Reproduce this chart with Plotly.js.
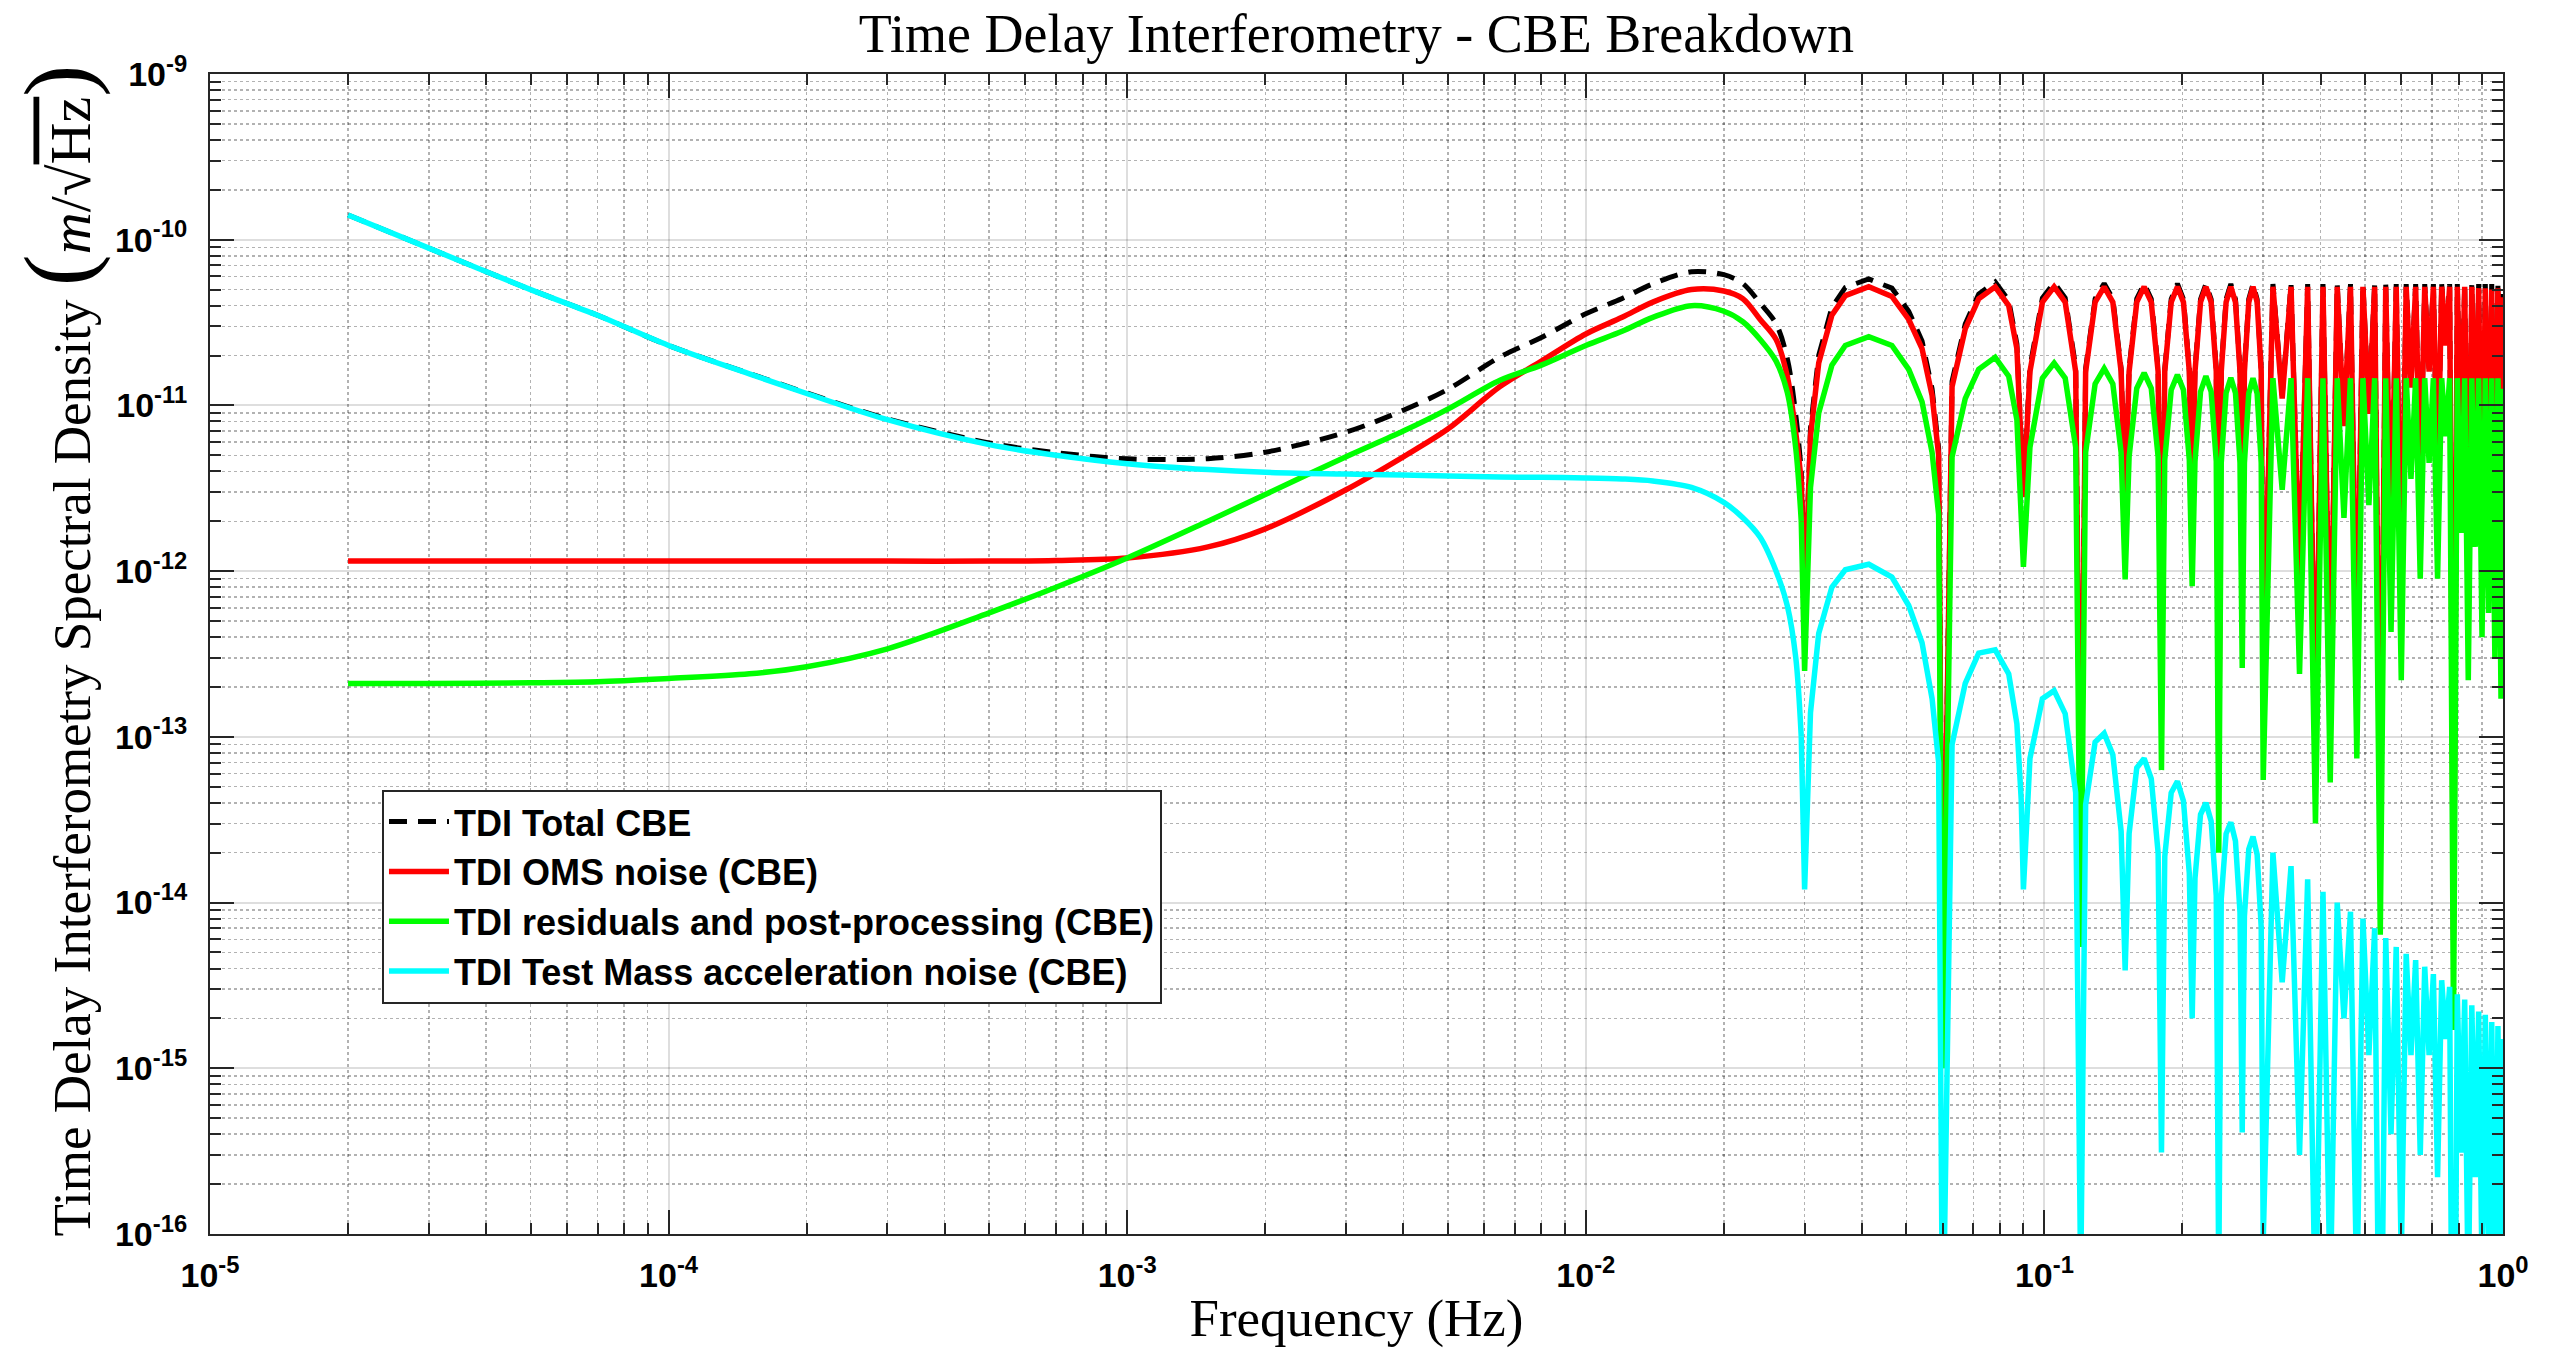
<!DOCTYPE html>
<html>
<head>
<meta charset="utf-8">
<script src="https://cdn.plot.ly/plotly-3.0.1.min.js"></script>
<style>
html,body{margin:0;padding:0;background:#ffffff;}
#chart{width:2569px;height:1357px;}
</style>
</head>
<body>
<div id="chart"></div>
<script>
// ---------- DATA ----------
// Frequencies (Hz): smooth low-frequency part
const f_smooth = [2e-5, 3e-5, 5e-5, 7e-5, 1e-4, 1.5e-4, 2e-4, 3e-4, 5e-4, 7e-4, 1e-3, 1.5e-3, 2e-3, 3e-3, 4e-3, 5e-3, 6.5e-3, 8e-3, 1e-2, 1.2e-2, 1.4e-2, 1.7e-2, 2e-2, 2.2e-2, 2.4e-2, 2.6e-2, 2.75e-2, 2.87e-2, 2.95e-2];
// Frequencies (Hz): first arches (nulls every 0.03 Hz)
const f_arch = [0.03, 0.0309, 0.0322, 0.0344, 0.0368, 0.0414, 0.0465, 0.0506, 0.0541, 0.0569, 0.0588,
  0.06, 0.0629, 0.0672, 0.0719, 0.0781, 0.0836, 0.0871, 0.089,
  0.09, 0.093, 0.099, 0.105, 0.111, 0.117,
  0.12, 0.123, 0.129, 0.135, 0.141, 0.147,
  0.15, 0.153, 0.159, 0.165, 0.171, 0.177,
  0.18, 0.183, 0.189, 0.195, 0.201, 0.207,
  0.21, 0.213, 0.219, 0.225, 0.231, 0.237,
  0.24, 0.243, 0.249, 0.255, 0.261, 0.267,
  0.27, 0.273, 0.279, 0.285, 0.291, 0.297];
// Frequencies (Hz): dense comb (null, peak, null, peak ...)
const f_comb = [0.30, 0.315, 0.33, 0.345, 0.36, 0.375, 0.39, 0.405, 0.42, 0.435, 0.45, 0.465, 0.48, 0.495, 0.51, 0.525, 0.54, 0.555, 0.57, 0.585, 0.60, 0.615, 0.63, 0.645, 0.66, 0.675, 0.69, 0.705, 0.72, 0.735, 0.75, 0.765, 0.78, 0.795, 0.81, 0.825, 0.84, 0.855, 0.87, 0.885, 0.90, 0.915, 0.93, 0.945, 0.96, 0.975, 0.99, 1.0];

// TDI Total CBE (m/sqrt(Hz))
const total_smooth = [1.41e-10, 8.9e-11, 5.0e-11, 3.5e-11, 2.3e-11, 1.56e-11, 1.19e-11, 8.3e-12, 5.94e-12, 5.19e-12, 4.76e-12, 4.77e-12, 5.22e-12, 6.9e-12, 9.35e-12, 1.25e-11, 1.96e-11, 2.57e-11, 3.57e-11, 4.42e-11, 5.41e-11, 6.41e-11, 6.15e-11, 5.44e-11, 4.14e-11, 3.11e-11, 1.92e-11, 8.75e-12, 4.03e-12];
const total_arch = [6.5e-13, 7.3e-12, 2.0e-11, 3.9e-11, 5.15e-11, 5.8e-11, 5.1e-11, 3.7e-11, 2.45e-11, 1.26e-11, 5.5e-12,
  2.8e-15, 1.4e-11, 3.1e-11, 4.7e-11, 5.55e-11, 4.3e-11, 2.35e-11, 7.5e-12,
  3.0e-12, 1.7e-11, 4.45e-11, 5.5e-11, 4.45e-11, 1.7e-11,
  1.7e-14, 1.67e-11, 4.4e-11, 5.45e-11, 4.4e-11, 1.67e-11,
  2.95e-12, 1.67e-11, 4.4e-11, 5.43e-11, 4.4e-11, 1.67e-11,
  2.3e-13, 1.66e-11, 4.38e-11, 5.42e-11, 4.38e-11, 1.66e-11,
  2.9e-12, 1.66e-11, 4.37e-11, 5.41e-11, 4.37e-11, 1.66e-11,
  7.3e-14, 1.66e-11, 4.37e-11, 5.4e-11, 4.37e-11, 1.66e-11,
  9.4e-13, 1.66e-11, 4.37e-11, 5.4e-11, 4.37e-11, 1.66e-11];
const total_comb = [2.1e-13, 5.4e-11, 1.15e-11, 5.4e-11, 8.8e-13, 5.4e-11, 1.1e-13, 5.4e-11, 2.0e-13, 5.4e-11, 7.8e-12, 5.4e-11, 2.7e-13, 5.4e-11, 9.2e-12, 5.4e-11, 2.4e-14, 5.4e-11, 1.55e-12, 5.4e-11, 8.1e-13, 5.4e-11, 1.33e-11, 5.4e-11, 3.3e-12, 5.4e-11, 1.67e-11, 5.4e-11, 3.3e-12, 5.4e-11, 2.4e-11, 5.4e-11, 6.2e-15, 5.4e-11, 6.2e-12, 5.4e-11, 8.1e-13, 5.4e-11, 5.2e-12, 5.4e-11, 1.45e-12, 5.4e-11, 2.1e-12, 5.4e-11, 1.1e-12, 5.4e-11, 6.2e-13, 4.7e-11];

// TDI OMS noise (CBE)
const oms_smooth = [1.15e-12, 1.15e-12, 1.15e-12, 1.15e-12, 1.15e-12, 1.15e-12, 1.15e-12, 1.15e-12, 1.15e-12, 1.16e-12, 1.2e-12, 1.4e-12, 1.8e-12, 3.1e-12, 4.9e-12, 7.2e-12, 1.3e-11, 1.85e-11, 2.7e-11, 3.4e-11, 4.2e-11, 5.0e-11, 4.9e-11, 4.4e-11, 3.3e-11, 2.5e-11, 1.5e-11, 6.8e-12, 3.5e-12];
const oms_arch = [6e-13, 6.5e-12, 1.8e-11, 3.5e-11, 4.6e-11, 5.2e-11, 4.55e-11, 3.3e-11, 2.2e-11, 1.15e-11, 5e-12,
  2.6e-15, 1.3e-11, 2.9e-11, 4.4e-11, 5.2e-11, 4.0e-11, 2.2e-11, 7e-12,
  2.8e-12, 1.6e-11, 4.2e-11, 5.2e-11, 4.2e-11, 1.6e-11,
  1.6e-14, 1.6e-11, 4.2e-11, 5.2e-11, 4.2e-11, 1.6e-11,
  2.8e-12, 1.6e-11, 4.2e-11, 5.2e-11, 4.2e-11, 1.6e-11,
  2.2e-13, 1.6e-11, 4.2e-11, 5.2e-11, 4.2e-11, 1.6e-11,
  2.8e-12, 1.6e-11, 4.2e-11, 5.2e-11, 4.2e-11, 1.6e-11,
  7e-14, 1.6e-11, 4.2e-11, 5.2e-11, 4.2e-11, 1.6e-11,
  9e-13, 1.6e-11, 4.2e-11, 5.2e-11, 4.2e-11, 1.6e-11];
const oms_comb = [2.0e-13, 5.2e-11, 1.1e-11, 5.2e-11, 8.5e-13, 5.2e-11, 1.07e-13, 5.2e-11, 1.9e-13, 5.2e-11, 7.5e-12, 5.2e-11, 2.6e-13, 5.2e-11, 8.9e-12, 5.2e-11, 2.3e-14, 5.2e-11, 1.5e-12, 5.2e-11, 7.8e-13, 5.2e-11, 1.28e-11, 5.2e-11, 3.2e-12, 5.2e-11, 1.6e-11, 5.2e-11, 3.2e-12, 5.2e-11, 2.3e-11, 5.2e-11, 6e-15, 5.2e-11, 6e-12, 5.2e-11, 7.8e-13, 5.2e-11, 5e-12, 5.1e-11, 1.4e-12, 5.1e-11, 2.0e-12, 5.0e-11, 1.07e-12, 5.1e-11, 6e-13, 4.5e-11];

// TDI residuals and post-processing (CBE)
const resid_smooth = [2.1e-13, 2.1e-13, 2.12e-13, 2.15e-13, 2.25e-13, 2.4e-13, 2.65e-13, 3.4e-13, 5.6e-13, 8.0e-13, 1.2e-12, 2.0e-12, 2.9e-12, 4.9e-12, 7.0e-12, 9.5e-12, 1.42e-11, 1.75e-11, 2.3e-11, 2.8e-11, 3.4e-11, 4.0e-11, 3.7e-11, 3.2e-11, 2.5e-11, 1.85e-11, 1.2e-11, 5.5e-12, 2.0e-12];
const resid_arch = [2.5e-13, 3.2e-12, 9e-12, 1.75e-11, 2.3e-11, 2.6e-11, 2.3e-11, 1.65e-11, 1.05e-11, 5.2e-12, 2.2e-12,
  1e-15, 4.9e-12, 1.1e-11, 1.65e-11, 1.95e-11, 1.5e-11, 8.2e-12, 2.6e-12,
  1.06e-12, 5.6e-12, 1.46e-11, 1.8e-11, 1.46e-11, 5.6e-12,
  5.4e-15, 5.2e-12, 1.35e-11, 1.67e-11, 1.35e-11, 5.2e-12,
  8.9e-13, 4.9e-12, 1.27e-11, 1.57e-11, 1.27e-11, 4.9e-12,
  6.3e-14, 4.7e-12, 1.24e-11, 1.53e-11, 1.24e-11, 4.7e-12,
  8.1e-13, 4.6e-12, 1.21e-11, 1.5e-11, 1.21e-11, 4.6e-12,
  2e-14, 4.5e-12, 1.19e-11, 1.47e-11, 1.19e-11, 4.5e-12,
  2.6e-13, 4.5e-12, 1.18e-11, 1.46e-11, 1.18e-11, 4.5e-12];
const resid_comb = [5.5e-14, 1.46e-11, 3.1e-12, 1.46e-11, 2.4e-13, 1.46e-11, 3.0e-14, 1.46e-11, 5.3e-14, 1.46e-11, 2.1e-12, 1.46e-11, 7.4e-14, 1.46e-11, 2.5e-12, 1.46e-11, 6.4e-15, 1.46e-11, 4.3e-13, 1.46e-11, 2.2e-13, 1.46e-11, 3.6e-12, 1.46e-11, 9.0e-13, 1.46e-11, 4.5e-12, 1.46e-11, 9.0e-13, 1.46e-11, 6.5e-12, 1.46e-11, 1.7e-15, 1.46e-11, 1.7e-12, 1.46e-11, 2.2e-13, 1.46e-11, 1.4e-12, 1.46e-11, 4.0e-13, 1.46e-11, 5.6e-13, 1.46e-11, 3.0e-13, 1.46e-11, 1.7e-13, 1.26e-11];

// TDI Test Mass acceleration noise (CBE)
const tm_smooth = [1.41e-10, 8.9e-11, 5.0e-11, 3.5e-11, 2.3e-11, 1.55e-11, 1.18e-11, 8.2e-12, 5.8e-12, 5.0e-12, 4.45e-12, 4.1e-12, 3.95e-12, 3.85e-12, 3.8e-12, 3.75e-12, 3.7e-12, 3.68e-12, 3.65e-12, 3.6e-12, 3.5e-12, 3.2e-12, 2.6e-12, 2.1e-12, 1.6e-12, 1.0e-12, 6.2e-13, 3.0e-13, 1.0e-13];
const tm_arch = [1.2e-14, 1.4e-13, 4.2e-13, 8e-13, 1.02e-12, 1.1e-12, 9.2e-13, 6.2e-13, 3.7e-13, 1.7e-13, 7e-14,
  1.7e-17, 9e-14, 2.1e-13, 3.2e-13, 3.35e-13, 2.4e-13, 1.2e-13, 4.2e-14,
  1.2e-14, 7.4e-14, 1.7e-13, 1.9e-13, 1.38e-13, 4.6e-14,
  5e-17, 3.9e-14, 9.3e-14, 1.05e-13, 7.8e-14, 2.7e-14,
  3.9e-15, 2.6e-14, 6.5e-14, 7.4e-14, 5.6e-14, 2.0e-14,
  3.1e-16, 1.9e-14, 4.6e-14, 5.4e-14, 4.1e-14, 1.5e-14,
  2e-15, 1.4e-14, 3.4e-14, 4.0e-14, 3.1e-14, 1.1e-14,
  5e-17, 1.05e-14, 2.6e-14, 3.05e-14, 2.35e-14, 8.7e-15,
  4.1e-16, 8.3e-15, 2.1e-14, 2.5e-14, 1.95e-14, 7.1e-15];
const tm_comb = [9e-17, 2.0e-14, 3.3e-15, 1.66e-14, 3.0e-16, 1.38e-14, 3e-17, 1.16e-14, 4e-17, 1.0e-14, 2e-15, 8.8e-15, 4e-17, 8.0e-15, 1.2e-15, 7.0e-15, 3e-18, 6.1e-15, 4e-16, 5.4e-15, 7e-17, 4.9e-15, 1.2e-15, 4.5e-15, 3e-16, 4.1e-15, 1.2e-15, 3.7e-15, 2.2e-16, 3.4e-15, 1.5e-15, 3.1e-15, 4e-19, 2.8e-15, 3.1e-16, 2.6e-15, 3.7e-17, 2.4e-15, 2.2e-16, 2.2e-15, 6e-17, 2.1e-15, 7.7e-17, 1.9e-15, 3.7e-17, 1.8e-15, 2.1e-17, 1.5e-15];

// Tick labels, names and titles
const xTickVals = [1e-5, 1e-4, 1e-3, 1e-2, 1e-1, 1];
const xTickText = ['10<sup>-5</sup>', '10<sup>-4</sup>', '10<sup>-3</sup>', '10<sup>-2</sup>', '10<sup>-1</sup>', '10<sup>0</sup>'];
const yTickVals = [1e-16, 1e-15, 1e-14, 1e-13, 1e-12, 1e-11, 1e-10, 1e-9];
const yTickText = ['10<sup>-16</sup>', '10<sup>-15</sup>', '10<sup>-14</sup>', '10<sup>-13</sup>', '10<sup>-12</sup>', '10<sup>-11</sup>', '10<sup>-10</sup>', '10<sup>-9</sup>'];
const seriesNames = ['TDI Total CBE', 'TDI OMS noise (CBE)', 'TDI residuals and post-processing (CBE)', 'TDI Test Mass acceleration noise (CBE)'];
const seriesColors = ['#000000', '#ff0000', '#00ff00', '#00ffff'];
const yTitleText = 'Time Delay Interferometry Spectral Density <span style="font-size:96px">(</span><span style="font-size:58px"><i>m</i>/√<span style="text-decoration:overline">Hz</span></span><span style="font-size:96px">)</span>';

// ---------- BUILD ----------
function minorTicks(decades){
  const out = [];
  decades.forEach(d => { for (let k = 2; k <= 9; k++) out.push(k * Math.pow(10, d)); });
  return out;
}
const nS = f_smooth.length;
const xRest = [f_smooth[nS - 1]].concat(f_arch, f_comb);
const seriesData = [
  [total_smooth, total_arch, total_comb],
  [oms_smooth, oms_arch, oms_comb],
  [resid_smooth, resid_arch, resid_comb],
  [tm_smooth, tm_arch, tm_comb]
];
const traces = [];
seriesData.forEach((s, i) => {
  const line = {color: seriesColors[i], width: i === 0 ? 5 : 5.5};
  if (i === 0) line.dash = '18px,11px';
  traces.push({x: f_smooth, y: s[0], type: 'scatter', mode: 'lines', legendgroup: 'g' + i, showlegend: false,
    name: seriesNames[i], line: Object.assign({}, line, {shape: 'spline', smoothing: 0.9})});
  traces.push({x: xRest, y: [s[0][nS - 1]].concat(s[1], s[2]), type: 'scatter', mode: 'lines', legendgroup: 'g' + i,
    name: seriesNames[i], line: Object.assign({}, line, {shape: 'linear'})});
});

const axisCommon = {
  type: 'log',
  ticks: 'inside', ticklen: 24, tickwidth: 2, tickcolor: '#262626',
  showline: true, linecolor: '#262626', linewidth: 2, mirror: 'allticks',
  showgrid: true, gridcolor: 'rgba(0,0,0,0.13)', gridwidth: 2,
  zeroline: false,
  tickfont: {family: 'Liberation Sans, Arial, Helvetica, sans-serif', size: 34, color: '#000000', weight: 'bold'},
  tickmode: 'array'
};

const layout = {
  width: 2569, height: 1357,
  paper_bgcolor: '#ffffff', plot_bgcolor: '#ffffff',
  margin: {l: 210, r: 66, t: 74, b: 123, pad: 0},
  showlegend: true,
  title: {
    text: 'Time Delay Interferometry - CBE Breakdown',
    font: {family: 'Liberation Serif, DejaVu Serif, serif', size: 54, color: '#000000'},
    x: 0.5, xref: 'paper', xanchor: 'center',
    y: 1 - 33/1357, yref: 'container', yanchor: 'middle'
  },
  xaxis: Object.assign({}, axisCommon, {
    range: [-5, 0],
    tickvals: xTickVals, ticktext: xTickText,
    ticklabelstandoff: 10,
    minor: {tickmode: 'array', tickvals: minorTicks([-5, -4, -3, -2, -1]), ticks: 'inside', ticklen: 11, tickwidth: 2, tickcolor: '#262626',
            showgrid: true, gridcolor: 'rgba(0,0,0,0.3)', griddash: 'dot', gridwidth: 1.5},
    title: {text: 'Frequency (Hz)', font: {family: 'Liberation Serif, DejaVu Serif, serif', size: 53, color: '#000000'}, standoff: 6}
  }),
  yaxis: Object.assign({}, axisCommon, {
    range: [-16, -9],
    tickvals: yTickVals, ticktext: yTickText,
    ticklabelstandoff: 14,
    minor: {tickmode: 'array', tickvals: minorTicks([-16, -15, -14, -13, -12, -11, -10]), ticks: 'inside', ticklen: 11, tickwidth: 2, tickcolor: '#262626',
            showgrid: true, gridcolor: 'rgba(0,0,0,0.3)', griddash: 'dot', gridwidth: 1.5},
    title: {text: ''}
  }),
  annotations: [{
    text: yTitleText, textangle: -90, showarrow: false,
    xref: 'paper', x: (58 - 210) / 2293, xanchor: 'center',
    yref: 'paper', y: 0.503, yanchor: 'middle',
    font: {family: 'Liberation Serif, DejaVu Serif, serif', size: 53, color: '#000000'}
  }],
  legend: {
    x: 0.075, y: 0.383, xanchor: 'left', yanchor: 'top',
    bgcolor: '#ffffff', bordercolor: '#262626', borderwidth: 2,
    font: {family: 'Liberation Sans, Arial, Helvetica, sans-serif', size: 36, color: '#000000', weight: 'bold'},
    itemwidth: 60, tracegroupgap: 0
  }
};

Plotly.newPlot('chart', traces, layout, {displayModeBar: false, staticPlot: true});
</script>
</body>
</html>
